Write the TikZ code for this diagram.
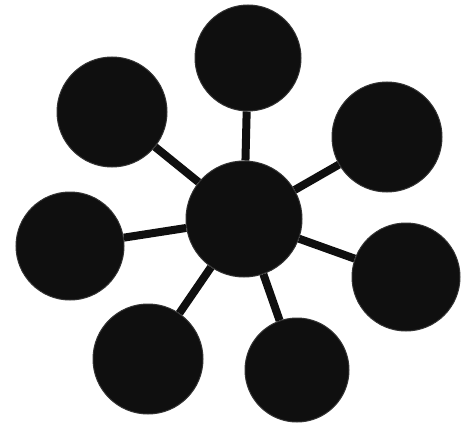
\documentclass[tikz,border=0pt]{standalone}
\begin{document}
\begin{tikzpicture}[x=1pt,y=-1pt,
  ball/.style={circle,fill=black!94,draw=black!80,line width=1pt,inner sep=0pt,minimum size=#1},
  spoke/.style={line width=8pt,draw=black!94}]
\useasboundingbox (0,0) rectangle (468,425);
\node[ball=116pt] (c) at (244,219) {};
\node[ball=106pt] (t) at (248,58) {};
\node[ball=110pt] (tl) at (112,112) {};
\node[ball=110pt] (ur) at (387,137) {};
\node[ball=108pt] (l) at (70,246) {};
\node[ball=108pt] (r) at (406,277) {};
\node[ball=110pt] (bl) at (148,359) {};
\node[ball=104pt] (br) at (297,370) {};
\foreach \n in {t,tl,ur,l,r,bl,br}{
  \draw[spoke] (c) -- (\n);
}
\end{tikzpicture}
\end{document}
